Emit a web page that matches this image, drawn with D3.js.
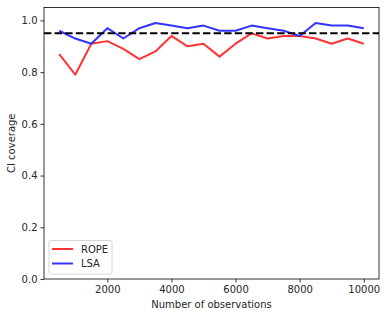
<!DOCTYPE html>
<html>
<head>
<meta charset="utf-8">
<script src="https://cdn.jsdelivr.net/npm/d3@7"></script>
<style>
  body { margin: 0; background: #fff; }
  text { font-family: "DejaVu Sans", sans-serif; fill: #262626; }
</style>
</head>
<body>
<div id="chart"></div>
<script>
// Data
const observations = [500, 1000, 1500, 2000, 2500, 3000, 3500, 4000, 4500, 5000,
  5500, 6000, 6500, 7000, 7500, 8000, 8500, 9000, 9500, 10000];
const rope = [0.87, 0.79, 0.91, 0.92, 0.89, 0.85, 0.88, 0.94, 0.90, 0.91,
  0.86, 0.91, 0.95, 0.93, 0.94, 0.94, 0.93, 0.91, 0.93, 0.91];
const lsa = [0.96, 0.93, 0.91, 0.97, 0.93, 0.97, 0.99, 0.98, 0.97, 0.98,
  0.96, 0.96, 0.98, 0.97, 0.96, 0.94, 0.99, 0.98, 0.98, 0.97];
const nominal = 0.95;
const xTicks = [2000, 4000, 6000, 8000, 10000];
const yTicks = [0.0, 0.2, 0.4, 0.6, 0.8, 1.0];

const series = [
  {name: "ROPE", color: "#ff3333", values: rope},
  {name: "LSA", color: "#3333ff", values: lsa}
];

function createChart() {
  const totalWidth = 386, totalHeight = 317;
  const margin = {top: 7.5, right: 7, bottom: 38, left: 44};
  const width = totalWidth - margin.left - margin.right,
    height = totalHeight - margin.top - margin.bottom;

  const svg = d3.select("#chart")
    .append("svg")
    .attr("width", totalWidth)
    .attr("height", totalHeight)
    .append("g")
    .attr("transform", `translate(${margin.left},${margin.top})`);

  // x padded by 5% of the data range, like matplotlib
  const xMin = d3.min(observations), xMax = d3.max(observations);
  const pad = (xMax - xMin) * 0.05;
  const x = d3.scaleLinear()
    .domain([xMin - pad, xMax + pad])
    .range([0, width]);

  const y = d3.scaleLinear()
    .domain([0, 1.05])
    .range([height, 0]);

  // Axes
  const xAxis = svg.append("g")
    .attr("transform", `translate(0,${height})`)
    .call(d3.axisBottom(x).tickValues(xTicks).tickSize(3.5).tickPadding(3).tickFormat(d3.format("d")));
  const yAxis = svg.append("g")
    .call(d3.axisLeft(y).tickValues(yTicks).tickSize(3.5).tickPadding(3).tickFormat(d3.format(".1f")));

  [xAxis, yAxis].forEach(a => {
    a.select(".domain").remove();
    a.selectAll("line").attr("stroke", "#000").attr("stroke-width", 0.8);
    a.selectAll("text").style("font-size", "10px").attr("fill", "#262626");
  });

  // Lines
  const line = d3.line()
    .x((d, i) => x(observations[i]))
    .y(d => y(d));

  svg.selectAll(".series")
    .data(series)
    .join("path")
    .attr("class", "series")
    .attr("fill", "none")
    .attr("stroke", d => d.color)
    .attr("stroke-width", 2)
    .attr("stroke-linejoin", "round")
    .attr("d", d => line(d.values));

  // Nominal coverage line
  svg.append("line")
    .attr("x1", 0)
    .attr("x2", width)
    .attr("y1", y(nominal))
    .attr("y2", y(nominal))
    .attr("stroke", "#000")
    .attr("stroke-width", 2)
    .attr("stroke-dasharray", "7.4,3.2");

  // Frame
  svg.append("rect")
    .attr("width", width)
    .attr("height", height)
    .attr("fill", "none")
    .attr("stroke", "#000")
    .attr("stroke-width", 0.8);

  // Axis labels
  svg.append("text")
    .attr("x", width / 2)
    .attr("y", height + 29)
    .attr("text-anchor", "middle")
    .style("font-size", "10px")
    .text("Number of observations");

  svg.append("text")
    .attr("transform", `translate(${-29},${height / 2}) rotate(-90)`)
    .attr("text-anchor", "middle")
    .style("font-size", "10px")
    .text("CI coverage");

  // Legend
  const legend = svg.append("g")
    .attr("transform", `translate(5,${height - 38.5})`);
  legend.append("rect")
    .attr("width", 63)
    .attr("height", 33.5)
    .attr("rx", 2)
    .attr("fill", "#fff")
    .attr("fill-opacity", 0.8)
    .attr("stroke", "#ccc")
    .attr("stroke-width", 0.8);

  const item = legend.selectAll(".item")
    .data(series)
    .join("g")
    .attr("class", "item")
    .attr("transform", (d, i) => `translate(0,${8.5 + i * 14.5})`);
  item.append("line")
    .attr("x1", 3)
    .attr("x2", 24)
    .attr("stroke", d => d.color)
    .attr("stroke-width", 2);
  item.append("text")
    .attr("x", 32)
    .attr("dy", "0.35em")
    .style("font-size", "10px")
    .text(d => d.name);
}

window.addEventListener("load", createChart);
</script>
</body>
</html>
